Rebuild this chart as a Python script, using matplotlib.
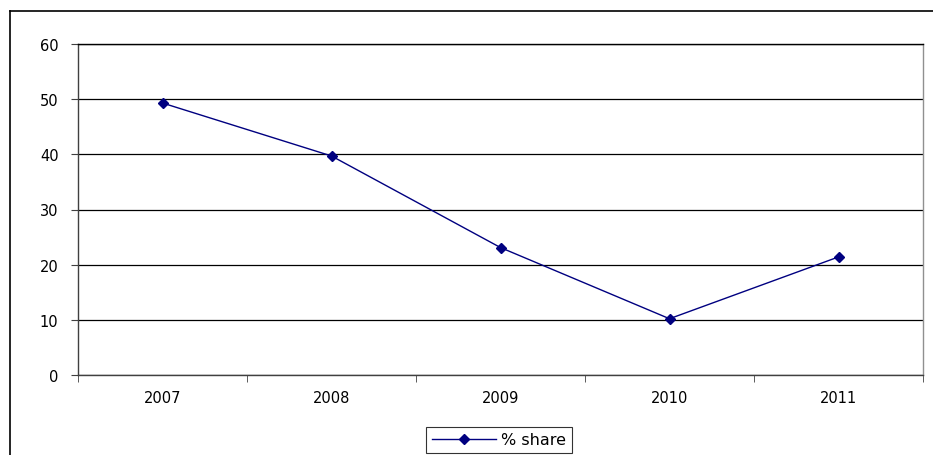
import matplotlib.pyplot as plt
from matplotlib.lines import Line2D
import numpy as np

years = ["2007", "2008", "2009", "2010", "2011"]
share = [49.3, 39.7, 23.1, 10.2, 21.4]

plt.rcParams['font.family'] = ['DejaVu Sans']

fig = plt.figure(figsize=(9.33, 4.56), dpi=100)
ax = fig.add_axes([78 / 933, 1 - 376 / 456, 845 / 933, 331 / 456])

x = np.arange(len(years))
ax.plot(x, share, color="#000080", lw=1, marker="D", ms=5, label="% share")

ax.set_xlim(-0.5, len(years) - 0.5)
ax.set_ylim(0, 60)
ax.set_yticks(range(0, 61, 10))
ax.set_xticks(x)
ax.set_xticklabels(years)
ax.set_xticks(np.arange(-0.5, len(years)), minor=True)
ax.tick_params(axis="x", which="major", length=0, pad=11, labelsize=10.5)
ax.tick_params(axis="x", which="minor", length=5, color="#404040")
ax.tick_params(axis="y", length=5, color="#404040", pad=9, labelsize=10.5)
ax.grid(axis="y", color="black", lw=0.9)
ax.set_axisbelow(True)

for side in ["left", "bottom"]:
    ax.spines[side].set_color("#404040")
ax.spines["right"].set_color("#909090")
ax.spines["top"].set_color("black")
for s in ax.spines.values():
    s.set_linewidth(1)

leg = fig.legend(loc="center", bbox_to_anchor=(499 / 933, 1 - 441 / 456), frameon=True,
                 fancybox=False, edgecolor="black", fontsize=11.5, handlelength=4.0,
                 borderpad=0.35, handletextpad=0.35, borderaxespad=0)
leg.get_frame().set_linewidth(0.8)

# outer chart border
fig.add_artist(Line2D([10 / 933, 10 / 933], [0, 1 - 12 / 456], color="black", lw=1.2,
                      transform=fig.transFigure))
fig.add_artist(Line2D([10 / 933, 1], [1 - 12 / 456, 1 - 12 / 456], color="black", lw=1.2,
                      transform=fig.transFigure))

fig.savefig("out.png", dpi=100)
